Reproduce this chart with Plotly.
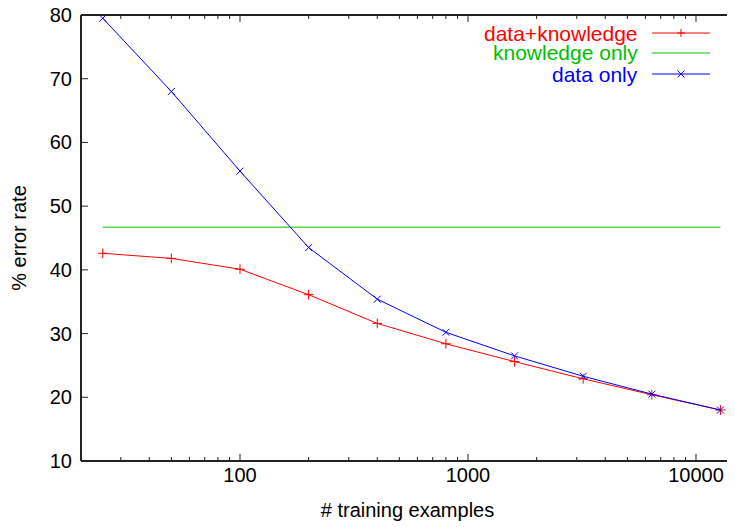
import plotly.graph_objects as go

train_sizes = [25, 50, 100, 200, 400, 800, 1600, 3200, 6400, 12800]
data_knowledge = [42.6, 41.8, 40.1, 36.1, 31.6, 28.4, 25.6, 22.9, 20.4, 18.0]
knowledge_only = [46.7] * len(train_sizes)
data_only = [79.5, 68.0, 55.5, 43.5, 35.4, 30.2, 26.5, 23.3, 20.5, 18.0]

x_tick_vals = [100, 1000, 10000]
x_tick_text = ["100", "1000", "10000"]
x_minor_vals = [30, 40, 50, 60, 70, 80, 90] + [m * v for m in [100, 1000, 10000] for v in range(2, 10)]
y_tick_vals = [10, 20, 30, 40, 50, 60, 70, 80]

series_names = ["data+knowledge", "knowledge only", "data only"]
series_colors = ["#ff0000", "#00c000", "#0000ff"]
series_symbols = ["cross-thin-open", None, "x-thin-open"]
series_values = [data_knowledge, knowledge_only, data_only]

font_family = "Liberation Sans, Arial, Helvetica, sans-serif"
x_range = [1.3026, 4.1667]
y_range = [10, 80]
frame_color = "#222222"

fig = go.Figure()
for name, color, sym, vals in zip(series_names, series_colors, series_symbols, series_values):
    fig.add_trace(go.Scatter(
        x=train_sizes, y=vals, name=name,
        mode="lines+markers" if sym else "lines",
        line=dict(color=color, width=1),
        marker=dict(symbol=sym, size=7, line=dict(color=color, width=1)) if sym else None,
        showlegend=False, cliponaxis=False,
    ))

# Plot frame as thin filled bars (2 px) along the four sides
no_line = dict(width=0)
for anchor in (0, 1):
    fig.add_shape(type="rect", xref="paper", yref="paper", xsizemode="pixel",
                  xanchor=anchor, x0=-1, x1=1, y0=0, y1=1,
                  fillcolor=frame_color, line=no_line, layer="above")
    fig.add_shape(type="rect", xref="paper", yref="paper", ysizemode="pixel",
                  yanchor=anchor, y0=-1, y1=1, x0=0, x1=1,
                  fillcolor=frame_color, line=no_line, layer="above")


def x_tick(v, length):
    for anchor, sign in ((0, 1), (1, -1)):
        fig.add_shape(type="line", xref="x", yref="y domain", ysizemode="pixel",
                      yanchor=anchor, x0=v, x1=v, y0=0, y1=sign * length,
                      line=dict(color=frame_color, width=1), layer="above")


def y_tick(v, length):
    for anchor, sign in ((0, 1), (1, -1)):
        fig.add_shape(type="rect", yref="y", xref="paper",
                      xsizemode="pixel", ysizemode="pixel",
                      xanchor=anchor, yanchor=v, y0=-0.5, y1=0.5, x0=0, x1=sign * length,
                      fillcolor=frame_color, line=no_line, layer="above")


for v in x_tick_vals:
    x_tick(v, 7)
for v in x_minor_vals:
    x_tick(v, 4)
for v in y_tick_vals[1:-1]:
    y_tick(v, 7)

# Custom legend: right-aligned text with the line sample to its right
legend_y = [0.9596, 0.9148, 0.8677]
text_right, line_x0, line_x1, mark_x = 0.856, 0.8745, 0.9632, 0.9188
for name, color, sym, ly in zip(series_names, series_colors, series_symbols, legend_y):
    fig.add_shape(type="line", xref="paper", yref="paper",
                  x0=line_x0, x1=line_x1, y0=ly, y1=ly,
                  line=dict(color=color, width=1))
    if sym == "cross-thin-open":
        segs = [(-4, 0, 4, 0), (0, -4, 0, 4)]
    elif sym == "x-thin-open":
        segs = [(-3.5, -3.5, 3.5, 3.5), (-3.5, 3.5, 3.5, -3.5)]
    else:
        segs = []
    for a, b, c, d in segs:
        fig.add_shape(type="line", xref="paper", yref="paper",
                      xsizemode="pixel", ysizemode="pixel",
                      xanchor=mark_x, yanchor=ly, x0=a, y0=b, x1=c, y1=d,
                      line=dict(color=color, width=1))
    fig.add_annotation(
        x=text_right, y=ly, xref="paper", yref="paper", text=name, showarrow=False,
        xanchor="right", yanchor="middle",
        font=dict(family=font_family, size=21, color=color),
    )

axis_common = dict(
    showline=False, ticks="", showgrid=False, zeroline=False,
    tickfont=dict(family=font_family, size=20, color="black"),
    automargin=False, ticklabeloverflow="allow",
)

# The page body has an 8px margin, so the figure is sized to fit the viewport.
fig.update_layout(
    width=727, height=519,
    margin=dict(l=73, r=1, t=7, b=66),
    paper_bgcolor="white", plot_bgcolor="white",
    xaxis=dict(
        type="log", range=x_range,
        tickvals=x_tick_vals, ticktext=x_tick_text,
        title=dict(text="# training examples", font=dict(family=font_family, size=20, color="black"), standoff=17),
        **axis_common,
    ),
    yaxis=dict(
        range=y_range, tickvals=y_tick_vals, ticklabelstandoff=8,
        title=dict(text="% error rate", font=dict(family=font_family, size=20, color="black"), standoff=22),
        **axis_common,
    ),
    showlegend=False,
)

fig.write_html("out.html")
